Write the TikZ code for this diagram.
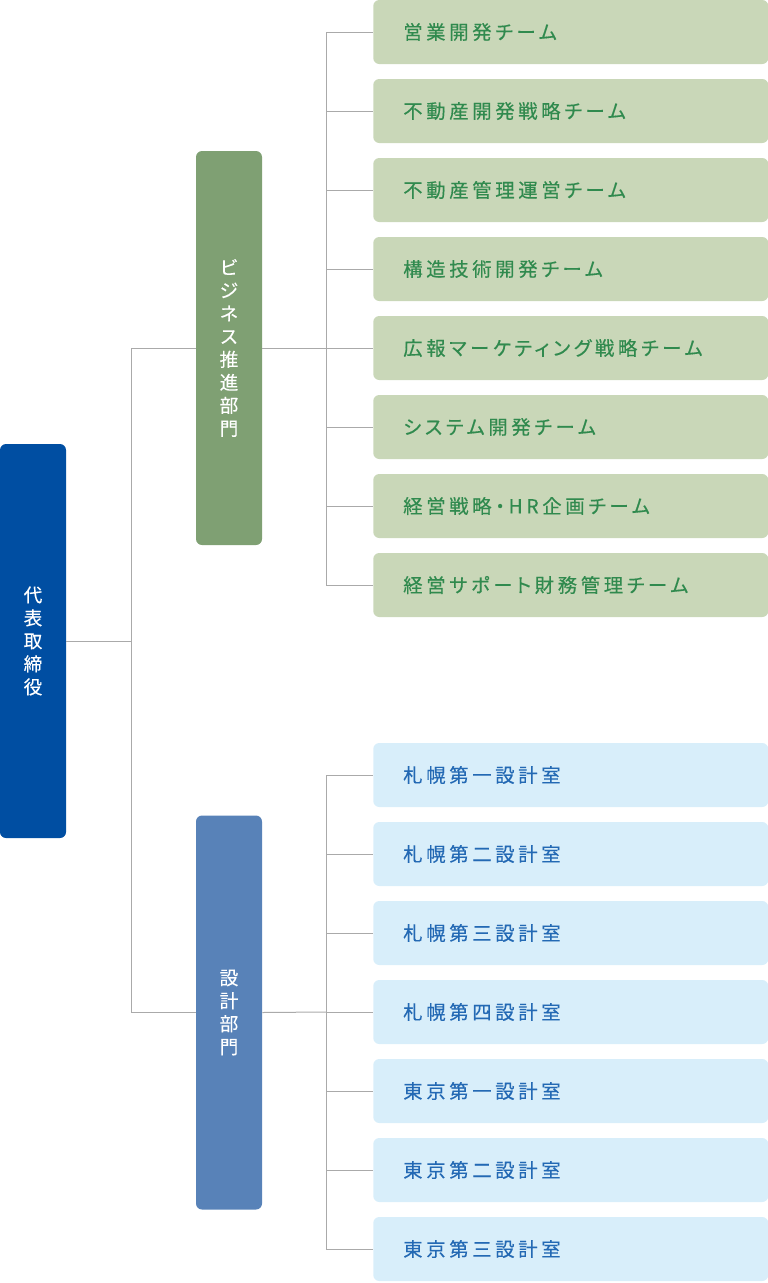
\documentclass[tikz,border=0pt]{standalone}
\usepackage{fontspec}
\usepackage{tikz}
\newfontfamily\jpfont[FakeBold=0.2]{Noto Sans CJK JP}
\newfontfamily\jpwide[LetterSpace=19, RawFeature=+palt, FakeBold=0.4]{Noto Sans CJK JP}
\definecolor{ceoblue}{RGB}{0,78,162}
\definecolor{bizgreen}{RGB}{127,160,115}
\definecolor{teamfill}{RGB}{201,215,184}
\definecolor{teamtext}{RGB}{48,138,78}
\definecolor{desblue}{RGB}{88,130,184}
\definecolor{roomfill}{RGB}{216,238,250}
\definecolor{roomtext}{RGB}{35,105,180}
\definecolor{linkgray}{RGB}{170,170,170}
\tikzset{
  dept/.style={rounded corners=4.5pt, minimum width=49.5pt, minimum height=295.5pt, inner sep=0pt,
    align=center, text=white, font=\jpfont\fontsize{14}{17.25}\selectfont},
  team/.style={anchor=west, rounded corners=4.5pt, fill=teamfill, text=teamtext, minimum height=48pt,
    text width=251.25pt, inner xsep=22.5pt, align=left, font=\jpwide\fontsize{14.5}{16}\selectfont},
  room/.style={team, fill=roomfill, text=roomtext},
  link/.style={draw=linkgray, line width=0.75pt}
}
\begin{document}
\begin{tikzpicture}[x=0.75pt, y=-0.75pt]
      \useasboundingbox (0,0) rectangle (768,1283);
      \node[dept, fill=ceoblue] (ceo) at (33,641) {代\\表\\取\\締\\役};
      \node[dept, fill=bizgreen] (biz) at (229,348) {ビ\\ジ\\ネ\\ス\\推\\進\\部\\門};
      \node[dept, fill=desblue] (design) at (229,1012.5) {設\\計\\部\\門};

      \node[team] (t1) at (373,32) {営業開発チーム};
      \node[team] (t2) at (373,111) {不動産開発戦略チーム};
      \node[team] (t3) at (373,190) {不動産管理運営チーム};
      \node[team] (t4) at (373,269) {構造技術開発チーム};
      \node[team] (t5) at (373,348) {広報マーケティング戦略チーム};
      \node[team] (t6) at (373,427) {システム開発チーム};
      \node[team] (t7) at (373,506) {経営戦略・HR企画チーム};
      \node[team] (t8) at (373,585) {経営サポート財務管理チーム};

      \node[room] (r1) at (373,775) {札幌第一設計室};
      \node[room] (r2) at (373,854) {札幌第二設計室};
      \node[room] (r3) at (373,933) {札幌第三設計室};
      \node[room] (r4) at (373,1012) {札幌第四設計室};
      \node[room] (r5) at (373,1091) {東京第一設計室};
      \node[room] (r6) at (373,1170) {東京第二設計室};
      \node[room] (r7) at (373,1249) {東京第三設計室};

      \coordinate (trunk) at (131,641);
      \draw[link] (ceo.east) -- (trunk);
      \draw[link] (trunk) |- (biz.west);
      \draw[link] (trunk) |- (design.west);

      \coordinate (bizbus) at (326,348);
      \draw[link] (biz.east) -- (bizbus);
      \draw[link] (bizbus) |- (t1.west);
      \draw[link] (bizbus) |- (t2.west);
      \draw[link] (bizbus) |- (t3.west);
      \draw[link] (bizbus) |- (t4.west);
      \draw[link] (bizbus) -- (t5.west);
      \draw[link] (bizbus) |- (t6.west);
      \draw[link] (bizbus) |- (t7.west);
      \draw[link] (bizbus) |- (t8.west);

      \coordinate (desbus) at (326,1012);
      \draw[link] (design.east) -- (desbus);
      \draw[link] (desbus) |- (r1.west);
      \draw[link] (desbus) |- (r2.west);
      \draw[link] (desbus) |- (r3.west);
      \draw[link] (desbus) -- (r4.west);
      \draw[link] (desbus) |- (r5.west);
      \draw[link] (desbus) |- (r6.west);
      \draw[link] (desbus) |- (r7.west);
\end{tikzpicture}
\end{document}
